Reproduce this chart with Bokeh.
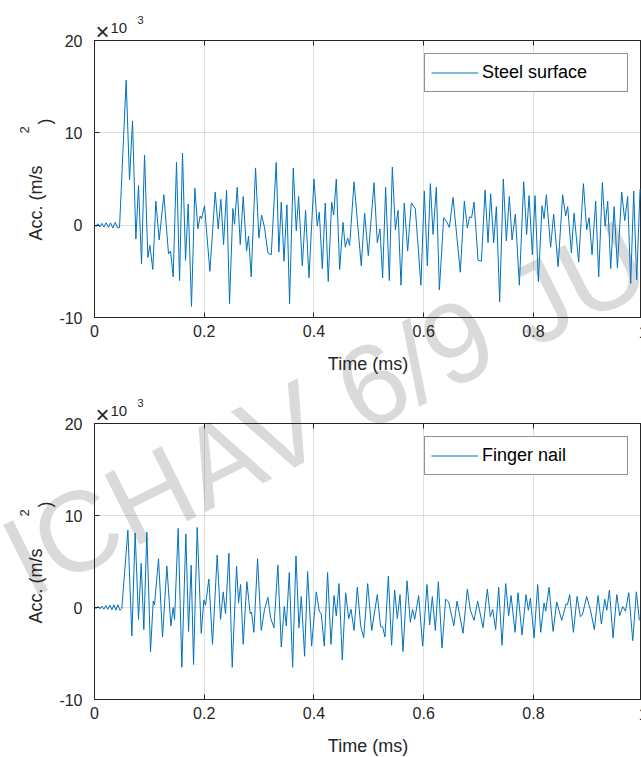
import math
from bokeh.plotting import figure
from bokeh.layouts import column
from bokeh.models import Range1d, FixedTicker, LinearAxis, Label, Legend, LegendItem, GridBox
from bokeh.embed import file_html
from bokeh.resources import INLINE

# ---- data: time (ms) and acceleration (x10^3 m/s^2), read at turning points ----
steel_t = [0.000, 0.003, 0.006, 0.0097, 0.0134, 0.017, 0.0213, 0.0255, 0.0292, 0.0334, 0.0377, 0.0425, 0.0456,
           0.0577, 0.0638, 0.0693, 0.0754, 0.0802, 0.0857, 0.0912, 0.0972, 0.1009, 0.1063, 0.1118, 0.1179,
           0.1264, 0.1349, 0.1386, 0.1434, 0.1495, 0.1550, 0.1604, 0.1659, 0.1708, 0.1768, 0.1829, 0.1884,
           0.1926, 0.1951, 0.2005, 0.2103, 0.2200, 0.2255, 0.2303, 0.2352, 0.2407, 0.2461, 0.2522, 0.2552,
           0.2601, 0.2656, 0.2710, 0.2771, 0.2808, 0.2856, 0.2935, 0.2996, 0.3045, 0.3100, 0.3160, 0.3221,
           0.3312, 0.3360, 0.3404, 0.3453, 0.3507, 0.3555, 0.3623, 0.3677, 0.3720, 0.3787, 0.3847, 0.3909,
           0.4000, 0.4060, 0.4097, 0.4152, 0.4206, 0.4260, 0.4322, 0.4359, 0.4407, 0.4468, 0.4529, 0.4571,
           0.4613, 0.4650, 0.4730, 0.4790, 0.4862, 0.4923, 0.4990, 0.5094, 0.5154, 0.5203, 0.5251, 0.5306,
           0.5373, 0.5428, 0.5483, 0.5532, 0.5586, 0.5646, 0.5707, 0.5774, 0.5847, 0.5949, 0.6011, 0.6066,
           0.6121, 0.6170, 0.6230, 0.6285, 0.6364, 0.6425, 0.6468, 0.6534, 0.6667, 0.6740, 0.6795, 0.6837,
           0.6873, 0.6917, 0.6990, 0.7051, 0.7118, 0.7172, 0.7220, 0.7275, 0.7324, 0.7384, 0.7451, 0.7506,
           0.7561, 0.7610, 0.7670, 0.7743, 0.7822, 0.7876, 0.7920, 0.7980, 0.8029, 0.8089, 0.8157, 0.8193,
           0.8235, 0.8313, 0.8368, 0.8449, 0.8532, 0.8587, 0.8624, 0.8691, 0.8740, 0.8824, 0.8910, 0.8970,
           0.9014, 0.9068, 0.9134, 0.9189, 0.9256, 0.9305, 0.9353, 0.9408, 0.9470, 0.9530, 0.9608, 0.9663,
           0.9717, 0.9772, 0.9827, 0.9881, 0.9943]
steel_a = [0.05, -0.15, 0.15, -0.2, 0.2, -0.2, 0.25, -0.25, 0.25, -0.3, 0.3, -0.3, -0.25,
           15.7, 4.9, 11.3, -1.5, 4.3, -4.2, 7.6, -3.5, -2.2, -4.8, 2.6, -1.6,
           3.3, -3.1, -2.8, -5.6, 6.8, -6.0, 7.8, -3.8, 2.3, -8.8, 4.0, -0.4,
           1.0, 0.7, 2.1, -5.0, 3.6, -0.4, 2.8, -2.1, 3.8, -8.5, 1.8, 0.1,
           4.1, -2.1, 3.1, -2.8, -1.2, -5.6, 6.2, -1.4, 1.1, -0.3, -3.0, -3.2,
           6.8, -2.9, 2.5, -3.9, 2.2, -8.5, 6.2, -0.6, 3.1, -4.4, 1.6, -5.7,
           5.0, -0.1, 1.4, -4.7, 2.4, -6.1, 2.5, 1.1, 5.0, -4.8, 0.3, -2.4,
           -1.4, -2.2, 4.7, 0.5, -4.4, 1.3, -3.3, 4.6, -1.9, -0.4, -5.7, 4.1,
           -6.0, 6.3, -0.5, 1.6, -6.5, 2.4, -2.8, 2.4, 1.8, -6.5, 3.7, -4.4,
           4.5, -1.0, 4.1, -7.0, 0.8, 0.3, -0.25, 3.0, -5.1, 2.6, -0.3, 0.9,
           0.8, 2.5, -3.8, -3.9, 3.8, -1.9, 3.4, -1.9, 2.0, -8.3, 5.0, -1.7,
           3.1, -1.6, 1.2, -6.5, 4.7, -1.0, 3.2, -3.2, 3.2, -6.1, 2.1, 0.7,
           3.3, -2.4, 1.2, -4.5, 3.3, 1.0, 2.0, -3.0, 1.3, -4.0, 4.5, -0.5,
           0.8, -3.2, 2.6, -5.6, 4.6, -0.1, 2.6, -4.7, 2.0, -4.6, 3.6, 0.5,
           3.1, -6.3, 3.7, -5.9, 3.9]

nail_t = [0.000, 0.003, 0.0067, 0.010, 0.0134, 0.017, 0.0207, 0.0243, 0.028, 0.0316, 0.0353, 0.039, 0.0426,
          0.0462, 0.0498, 0.0608, 0.0681, 0.0741, 0.0802, 0.0851, 0.0899, 0.0954, 0.1021, 0.1070, 0.1094,
          0.1167, 0.1240, 0.1319, 0.1392, 0.1434, 0.1459, 0.1525, 0.1592, 0.1665, 0.1714, 0.1762, 0.1805,
          0.1872, 0.1945, 0.1993, 0.2024, 0.2084, 0.2151, 0.2236, 0.2297, 0.2346, 0.2388, 0.2449, 0.2510,
          0.2589, 0.2625, 0.2662, 0.2710, 0.2777, 0.2838, 0.2862, 0.2905, 0.2972, 0.3039, 0.3099, 0.3160,
          0.3209, 0.3270, 0.3342, 0.3404, 0.3459, 0.3495, 0.3550, 0.3611, 0.3672, 0.3726, 0.3769, 0.3829,
          0.3884, 0.3957, 0.4042, 0.4097, 0.4133, 0.4188, 0.4248, 0.4310, 0.4365, 0.4407, 0.4456, 0.4516,
          0.4577, 0.4632, 0.4675, 0.4730, 0.4790, 0.4851, 0.4906, 0.4979, 0.5052, 0.5154, 0.5215, 0.5251,
          0.5294, 0.5355, 0.5415, 0.5470, 0.5519, 0.5568, 0.5623, 0.5696, 0.5756, 0.5798, 0.5835, 0.5908,
          0.5981, 0.6060, 0.6108, 0.6157, 0.6212, 0.6267, 0.6334, 0.6400, 0.6455, 0.6549, 0.6607, 0.6717,
          0.6795, 0.6850, 0.6917, 0.6983, 0.7081, 0.7160, 0.7214, 0.7257, 0.7311, 0.7366, 0.7427, 0.7494,
          0.7548, 0.7592, 0.7665, 0.7719, 0.7792, 0.7865, 0.7907, 0.7944, 0.8011, 0.8077, 0.8132, 0.8193,
          0.8223, 0.8285, 0.8358, 0.8424, 0.8515, 0.8596, 0.8620, 0.8660, 0.8728, 0.8795, 0.8855, 0.8892,
          0.8970, 0.9043, 0.9110, 0.9178, 0.9238, 0.9299, 0.9336, 0.9384, 0.9451, 0.9518, 0.9572, 0.9627,
          0.9676, 0.9737, 0.9809, 0.9876, 0.9930]
nail_a = [0.0, -0.1, 0.1, -0.15, 0.15, -0.2, 0.2, -0.2, 0.25, -0.25, 0.3, -0.3, 0.3,
          -0.3, -0.1, 8.4, -3.1, 8.1, -1.3, 4.8, -2.4, 8.2, -4.8, 0.7, 0.3,
          5.3, -3.2, 4.5, -2.0, 0.0, -1.3, 8.6, -6.5, 8.0, -2.6, 4.6, -6.2,
          8.7, -2.8, 0.8, 0.25, 3.1, -4.0, 5.7, -1.3, 1.7, -0.7, 5.9, -6.5,
          4.5, 0.5, 2.5, -4.0, 2.8, -0.7, -0.5, -2.7, 5.3, -2.5, -0.2, 1.1,
          -1.1, -2.2, 4.6, -4.3, 0.1, -2.0, 3.8, -6.5, 5.6, -2.2, 1.2, -5.3,
          3.9, -4.2, 1.7, -0.4, -0.7, -4.2, 3.8, -4.0, 1.3, -0.9, 2.6, -5.7,
          1.6, -1.2, -0.2, -2.5, 2.2, -2.0, -3.3, 2.6, -2.5, 1.4, -2.1, -2.1,
          -3.2, 3.4, -4.1, 1.9, -1.2, 1.4, -4.8, 2.9, -1.6, -0.2, -1.3, 1.3,
          -4.2, 2.5, -1.9, 1.2, -2.5, 2.8, -4.4, 0.9, 0.6, -2.0, 0.7, -2.8,
          2.0, -0.3, -1.4, 0.7, -2.2, 2.0, -1.0, -0.2, -2.4, 2.2, -4.1, 2.6,
          -0.9, 1.3, -2.7, 1.6, -3.0, 1.4, -0.3, 1.0, -3.3, 2.5, -2.7, 0.5,
          -0.4, 2.2, -2.6, 0.6, -1.4, 0.4, 0.3, 1.4, -2.7, 1.2, -1.0, -0.8,
          1.2, -0.4, -2.4, 1.3, -1.8, 0.9, -0.3, 1.9, -3.3, 1.4, -0.9, 0.1,
          -0.4, 1.6, -3.6, 1.7, -1.4]

series_names = ["Steel surface", "Finger nail"]
x_ticks = [0, 0.2, 0.4, 0.6, 0.8]
x_tick_labels = ["0", "0.2", "0.4", "0.6", "0.8"]
y_ticks = [-10, 0, 10, 20]
y_tick_labels = ["-10", "0", "10", "20"]
x_label = "Time (ms)"
y_label_main = "Acc. (m/s"
y_label_sup = "2"
y_label_close = ")"
exp_times = "\u00d7"
exp_base = "10"
exp_power = "3"
last_tick_label = "1"
watermark = "ICHAV 6/9 JU"

# ---- styling / layout ----
FONT = "Liberation Sans"
AX = "#262626"
BLUE = "#0072BD"
W, H = 641, 757
FRAME_L, FRAME_W = 94, 547
PX_PER_MS = 548.7
X_END = FRAME_W / PX_PER_MS

TOP_H, TOP_BT, TOP_FH = 377, 40, 277
BOT_BT, BOT_FH = 46, 276
BOT_H = H - TOP_H
FRAME_TOPS = [TOP_BT, TOP_H + BOT_BT]          # page y of each frame top (40, 423)
FRAME_BOTS = [TOP_BT + TOP_FH, TOP_H + BOT_BT + BOT_FH]


def make_fig(name, t, a, height, border_top, frame_h):
    border_bottom = height - border_top - frame_h
    p = figure(width=W, height=height, output_backend="svg", toolbar_location=None,
               x_range=Range1d(0, X_END), y_range=Range1d(-10, 20),
               frame_width=FRAME_W, frame_height=frame_h,
               min_border_left=FRAME_L, min_border_right=0,
               min_border_top=border_top, min_border_bottom=border_bottom,
               x_axis_location=None, y_axis_location=None)
    p.background_fill_color = None
    p.border_fill_color = None
    p.outline_line_color = AX
    p.outline_line_width = 1

    xb = LinearAxis(ticker=FixedTicker(ticks=x_ticks),
                    major_label_overrides={v: s for v, s in zip(x_ticks, x_tick_labels)},
                    axis_label=x_label)
    xt = LinearAxis(ticker=FixedTicker(ticks=x_ticks), major_label_standoff=0)
    yl = LinearAxis(ticker=FixedTicker(ticks=y_ticks),
                    major_label_overrides={v: s for v, s in zip(y_ticks, y_tick_labels)})
    for ax in (xb, xt, yl):
        ax.axis_line_color = AX
        ax.major_tick_line_color = AX
        ax.minor_tick_line_color = None
        ax.major_tick_in = 5
        ax.major_tick_out = 0
        ax.major_label_text_font = FONT
        ax.major_label_text_color = AX
        ax.axis_label_text_font = FONT
        ax.axis_label_text_color = AX
        ax.axis_label_text_font_style = "normal"
    xt.major_label_text_color = None
    xt.major_label_text_font_size = "4px"
    xb.major_label_text_font_size = "16px"
    xb.major_label_standoff = 7
    xb.axis_label_text_font_size = "18px"
    xb.axis_label_standoff = 14
    yl.major_label_text_font_size = "16px"
    yl.major_label_standoff = 12
    p.add_layout(xb, "below")
    p.add_layout(xt, "above")
    p.add_layout(yl, "left")

    p.xgrid.ticker = FixedTicker(ticks=x_ticks)
    p.ygrid.ticker = FixedTicker(ticks=y_ticks)
    for g in (p.xgrid, p.ygrid):
        g.grid_line_color = AX
        g.grid_line_alpha = 0.15
        g.grid_line_width = 1

    r = p.line(t, a, line_color=BLUE, line_width=1)

    legend = Legend(items=[LegendItem(label=name, renderers=[r])], location="top_right",
                    margin=13, padding=6, spacing=0, glyph_width=47, glyph_height=25,
                    label_width=139, label_height=25, label_standoff=4,
                    label_text_font=FONT, label_text_font_size="18px", label_text_color="black",
                    border_line_color=AX, border_line_width=1,
                    background_fill_color="white", background_fill_alpha=1.0)
    p.add_layout(legend)
    return p


# background canvas in page pixels: watermark and the texts that sit outside the axes boxes
bg = figure(width=W, height=H, output_backend="svg", toolbar_location=None,
            x_range=Range1d(0, W), y_range=Range1d(H, 0),
            min_border_left=0, min_border_right=0, min_border_top=0, min_border_bottom=0,
            x_axis_location=None, y_axis_location=None)
if "frame_align" in bg.properties():
    bg.frame_align = False
bg.outline_line_color = None
bg.grid.visible = False
bg.background_fill_color = "white"
bg.border_fill_color = "white"


def lab(px, py, text, size, angle=0.0, align="left", baseline="alphabetic", color=AX):
    bg.add_layout(Label(x=px, y=py, text=text, angle=angle, text_font=FONT, text_font_size=size,
                        text_color=color, text_align=align, text_baseline=baseline))


lab(11, 564, watermark, "114px", angle=math.radians(26.5), color="#dadada")
for ft, fb in zip(FRAME_TOPS, FRAME_BOTS):
    # y label, MATLAB-style broken superscript
    lab(35, ft + 162.5, y_label_main, "18px", angle=math.pi / 2, align="center")
    lab(23.5, ft + 89.5, y_label_sup, "13px", angle=math.pi / 2, align="center")
    lab(44, ft + 81, y_label_close, "18px", angle=math.pi / 2, align="center")
    # x10^3 exponent, MATLAB-style
    lab(95, ft - 9, exp_times, "24px", baseline="middle")
    lab(110, ft - 13, exp_base, "15px")
    lab(137, ft - 21, exp_power, "11px")
    # cut-off last tick label at the right edge
    lab(FRAME_L + PX_PER_MS, fb + 14, last_tick_label, "16px", align="center", baseline="middle")

top = make_fig(series_names[0], steel_t, steel_a, TOP_H, TOP_BT, TOP_FH)
bot = make_fig(series_names[1], nail_t, nail_a, BOT_H, BOT_BT, BOT_FH)

bg_box = column(bg, spacing=0)
layout = GridBox(children=[(bg_box, 0, 0, 2, 1), (top, 0, 0), (bot, 1, 0)], spacing=0)
open("out.html", "w").write(file_html(layout, INLINE))
